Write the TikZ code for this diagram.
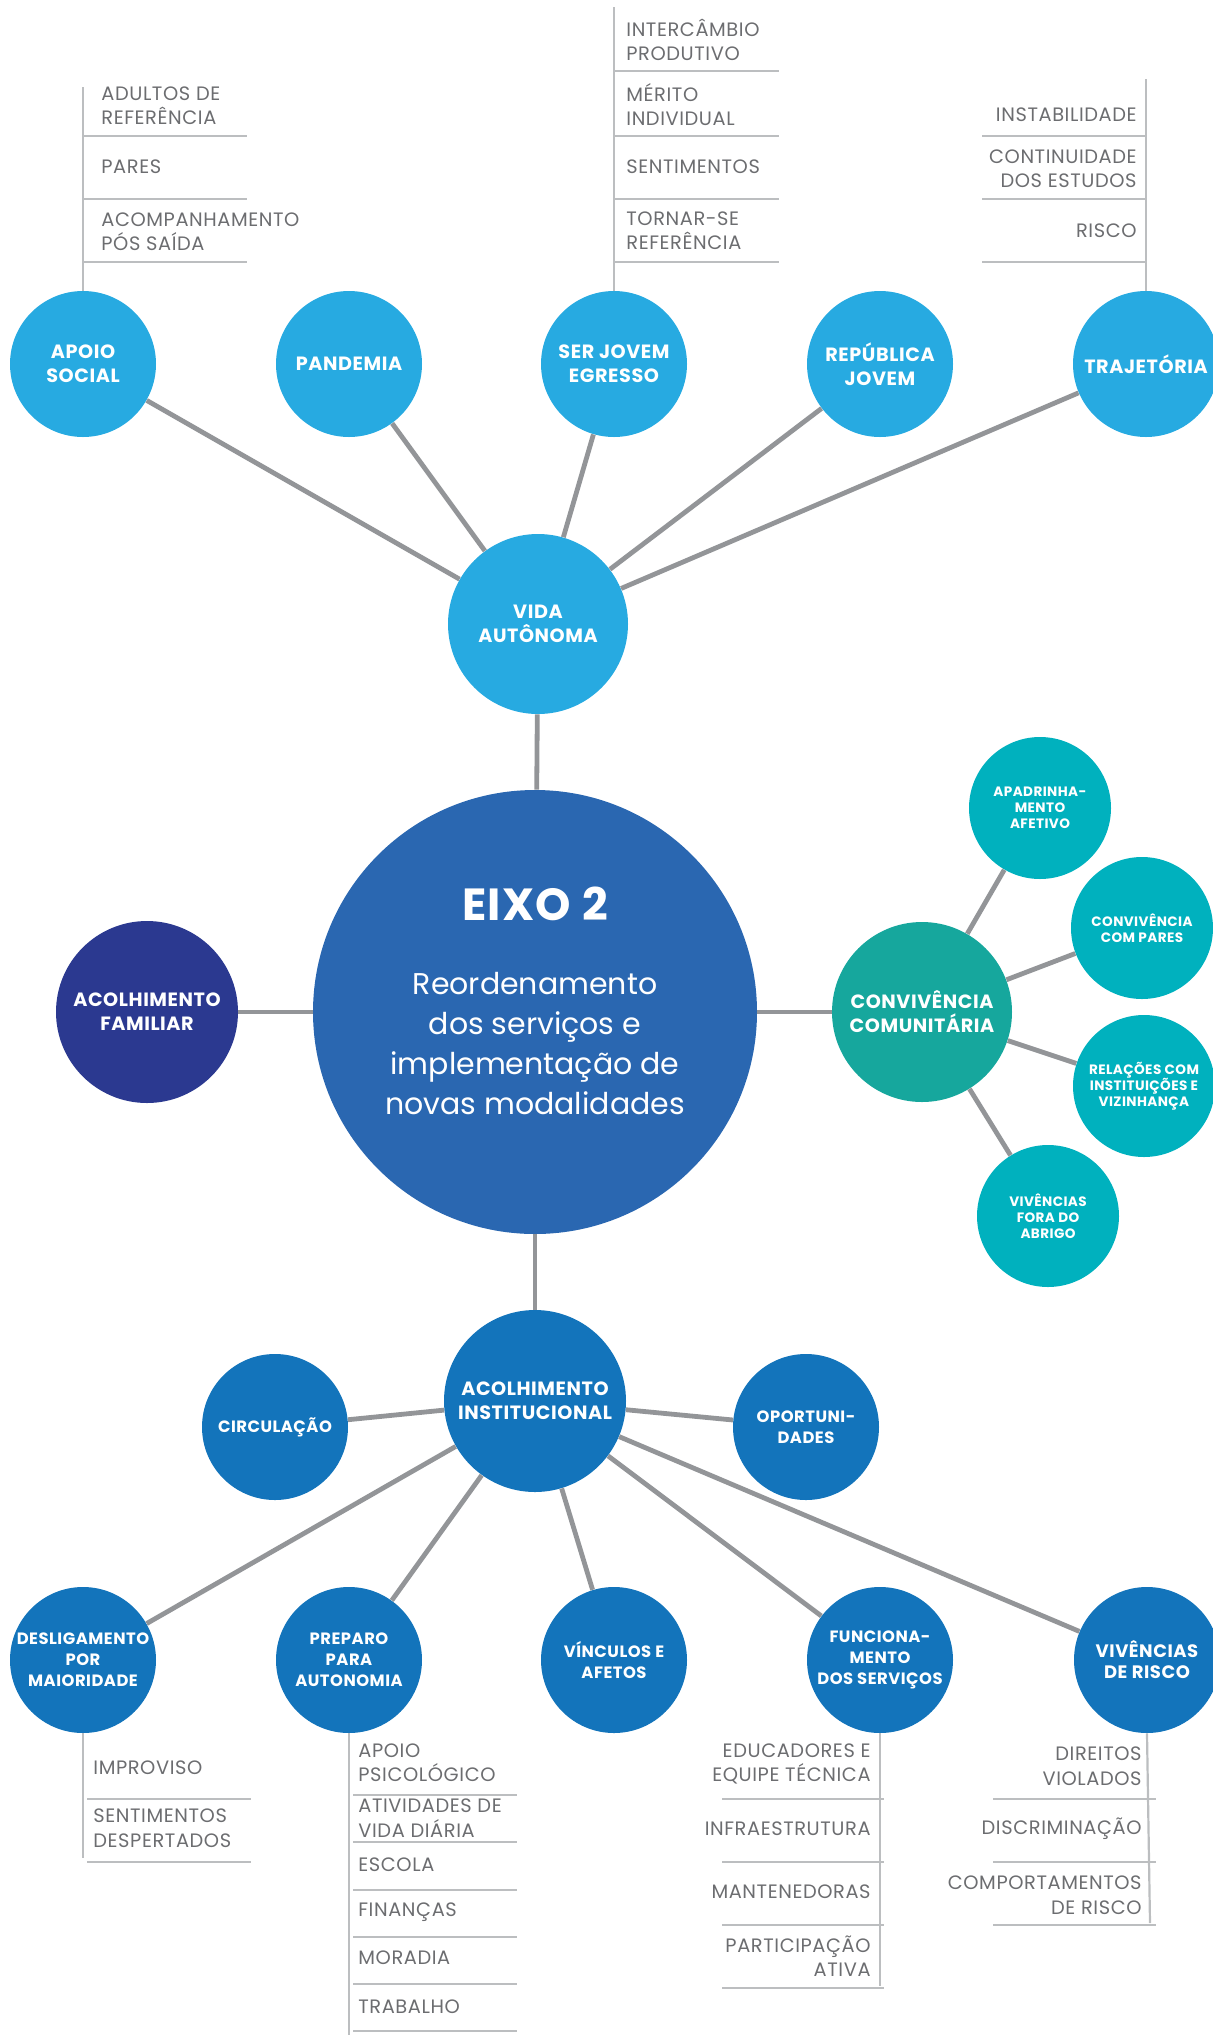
\documentclass[tikz,border=0pt]{standalone}
\usepackage{fontspec}
\setmainfont{Poppins}
\newfontfamily\capsfont{Poppins}[LetterSpace=3]
\definecolor{hubblue}{RGB}{42,103,177}
\definecolor{skyblue}{RGB}{39,170,225}
\definecolor{navyblue}{RGB}{43,57,144}
\definecolor{seagreen}{RGB}{22,167,157}
\definecolor{aqua}{RGB}{0,177,190}
\definecolor{oceanblue}{RGB}{19,116,187}
\definecolor{linkgray}{RGB}{147,149,152}
\definecolor{rulegray}{RGB}{188,190,192}
\definecolor{textgray}{RGB}{108,109,112}
\tikzset{
  bubble/.style={circle, inner sep=0pt, align=center, text=white, font=\capsfont\bfseries\fontsize{9.6}{12}\selectfont},
  topnode/.style={bubble, fill=skyblue, minimum size=73pt},
  vidanode/.style={bubble, fill=skyblue, minimum size=90pt},
  famnode/.style={bubble, fill=navyblue, minimum size=91pt},
  comnode/.style={bubble, fill=seagreen, minimum size=90pt},
  satnode/.style={bubble, fill=aqua, minimum size=71pt, font=\capsfont\bfseries\fontsize{6.8}{8}\selectfont},
  instnode/.style={bubble, fill=oceanblue, minimum size=91pt},
  basenode/.style={bubble, fill=oceanblue, minimum size=73pt, font=\capsfont\bfseries\fontsize{8.2}{10.5}\selectfont},
  hubnode/.style={circle, fill=hubblue, minimum size=222pt, inner sep=0pt},
  link/.style={draw=linkgray, line width=2.4pt},
  listline/.style={draw=rulegray, line width=1.1pt},
  itemleft/.style={anchor=west, align=left, text=textgray, inner sep=0pt, font=\capsfont\fontsize{9.7}{12.2}\selectfont},
  itemright/.style={itemleft, anchor=east, align=right}
}

\begin{document}
\begin{tikzpicture}[x=0.5pt, y=-0.5pt]
  \useasboundingbox (0,0) rectangle (1213,2035);

  % centre
  \node[hubnode] (eixo) at (535,1012) {};
  \node[text=white, font=\capsfont\bfseries\fontsize{22.5}{26}\selectfont] (eixotitle) at (535,904) {EIXO 2};
  \node[text=white, align=center, font=\fontsize{15}{20}\selectfont] (eixotext) at (535,1044)
    {Reordenamento\\dos serviços e\\implementação de\\novas modalidades};

  % upper branch
  \node[vidanode] (vida) at (538,624) {VIDA\\AUTÔNOMA};
  \node[topnode] (apoio) at (83,364) {APOIO\\SOCIAL};
  \node[topnode] (pandemia) at (349,364) {PANDEMIA};
  \node[topnode] (egresso) at (614,364) {SER JOVEM\\EGRESSO};
  \node[topnode] (republica) at (880,364) {REPÚBLICA\\JOVEM};
  \node[topnode] (trajetoria) at (1146,364) {TRAJETÓRIA};

  % left and right
  \node[famnode] (familiar) at (147,1012) {ACOLHIMENTO\\FAMILIAR};
  \node[comnode] (comunitaria) at (922,1012) {CONVIVÊNCIA\\COMUNITÁRIA};
  \node[satnode] (padrinho) at (1040,808) {APADRINHA-\\MENTO\\AFETIVO};
  \node[satnode] (pares) at (1142,928) {CONVIVÊNCIA\\COM PARES};
  \node[satnode] (relacoes) at (1144,1086) {RELAÇÕES COM\\INSTITUIÇÕES E\\VIZINHANÇA};
  \node[satnode] (fora) at (1048,1216) {VIVÊNCIAS\\FORA DO\\ABRIGO};

  % lower branch
  \node[instnode] (institucional) at (535,1401) {ACOLHIMENTO\\INSTITUCIONAL};
  \node[basenode] (circulacao) at (275,1427) {CIRCULAÇÃO};
  \node[basenode] (oportunidades) at (806,1427) {OPORTUNI-\\DADES};
  \node[basenode] (desligamento) at (83,1660) {DESLIGAMENTO\\POR\\MAIORIDADE};
  \node[basenode] (preparo) at (349,1660) {PREPARO\\PARA\\AUTONOMIA};
  \node[basenode] (vinculos) at (614,1660) {VÍNCULOS E\\AFETOS};
  \node[basenode] (funcionamento) at (880,1660) {FUNCIONA-\\MENTO\\DOS SERVIÇOS};
  \node[basenode, font=\capsfont\bfseries\fontsize{9}{10.5}\selectfont] (risco) at (1147,1660) {VIVÊNCIAS\\DE RISCO};

  \foreach \n in {apoio,pandemia,egresso,republica,trajetoria}
    \draw[link] (\n) -- (vida);
  \draw[link] (vida) -- (eixo);
  \draw[link] (familiar) -- (eixo);
  \draw[link] (eixo) -- (comunitaria);
  \draw[link] (eixo) -- (institucional);
  \foreach \n in {padrinho,pares,relacoes,fora}
    \draw[link] (comunitaria) -- (\n);
  \foreach \n in {circulacao,oportunidades,desligamento,preparo,vinculos,funcionamento,risco}
    \draw[link] (institucional) -- (\n);

  % lists above the top row
  \coordinate (apoiotop) at (83,87);
  \draw[listline] (apoio.north) -- (apoiotop);
  \foreach \y in {136,199,262}
    \draw[listline] (83,\y) -- (247,\y);
  \node[itemleft] (ap1) at (101,105.5) {ADULTOS DE\\REFERÊNCIA};
  \node[itemleft] (ap2) at (101,167) {PARES};
  \node[itemleft] (ap3) at (101,231.5) {ACOMPANHAMENTO\\PÓS SAÍDA};

  \coordinate (egressotop) at (614,7);
  \draw[listline] (egresso.north) -- (egressotop);
  \foreach \y in {71,136,199,262}
    \draw[listline] (614,\y) -- (779,\y);
  \node[itemleft] (eg1) at (626,40) {INTERCÂMBIO\\PRODUTIVO};
  \node[itemleft] (eg2) at (626,104.5) {MÉRITO\\INDIVIDUAL};
  \node[itemleft] (eg3) at (626,167) {SENTIMENTOS};
  \node[itemleft] (eg4) at (626,231) {TORNAR-SE\\REFERÊNCIA};

  \coordinate (trajetoriatop) at (1146,79);
  \draw[listline] (trajetoria.north) -- (trajetoriatop);
  \foreach \y in {136,199,262}
    \draw[listline] (982,\y) -- (1146,\y);
  \node[itemright] (tj1) at (1137,115) {INSTABILIDADE};
  \node[itemright] (tj2) at (1137,169) {CONTINUIDADE\\DOS ESTUDOS};
  \node[itemright] (tj3) at (1137,231) {RISCO};

  % lists below the bottom row
  \coordinate (desligamentoend) at (83,1858);
  \draw[listline] (desligamento.south) -- (desligamentoend);
  \foreach \y in {1799,1862}
    \draw[listline] (87,\y) -- (251,\y);
  \node[itemleft] (dl1) at (93,1768) {IMPROVISO};
  \node[itemleft] (dl2) at (93,1828) {SENTIMENTOS\\DESPERTADOS};

  \coordinate (preparoend) at (349,2035);
  \draw[listline] (preparo.south) -- (preparoend);
  \foreach \y in {1795,1842,1890,1937,1984,2031}
    \draw[listline] (353,\y) -- (517,\y);
  \node[itemleft] (pp1) at (358,1763) {APOIO\\PSICOLÓGICO};
  \node[itemleft] (pp2) at (358,1818) {ATIVIDADES DE\\VIDA DIÁRIA};
  \node[itemleft] (pp3) at (358,1865) {ESCOLA};
  \node[itemleft] (pp4) at (358,1912) {FINANÇAS};
  \node[itemleft] (pp5) at (358,1958) {MORADIA};
  \node[itemleft] (pp6) at (358,2007) {TRABALHO};

  \coordinate (funcionamentoend) at (880,1986);
  \draw[listline] (funcionamento.south) -- (funcionamentoend);
  \foreach \y in {1799,1862,1925,1988}
    \draw[listline] (722,\y) -- (884,\y);
  \node[itemright] (fs1) at (871,1764) {EDUCADORES E\\EQUIPE TÉCNICA};
  \node[itemright] (fs2) at (871,1829) {INFRAESTRUTURA};
  \node[itemright] (fs3) at (871,1892) {MANTENEDORAS};
  \node[itemright] (fs4) at (871,1956) {PARTICIPAÇÃO\\ATIVA};

  \coordinate (riscoend) at (1150,1923);
  \draw[listline] (risco.south) -- (riscoend);
  \foreach \y in {1799,1862,1925}
    \draw[listline] (993,\y) -- (1156,\y);
  \node[itemright] (vr1) at (1142,1766) {DIREITOS\\VIOLADOS};
  \node[itemright] (vr2) at (1142,1829) {DISCRIMINAÇÃO};
  \node[itemright] (vr3) at (1142,1895) {COMPORTAMENTOS\\DE RISCO};
\end{tikzpicture}
\end{document}
